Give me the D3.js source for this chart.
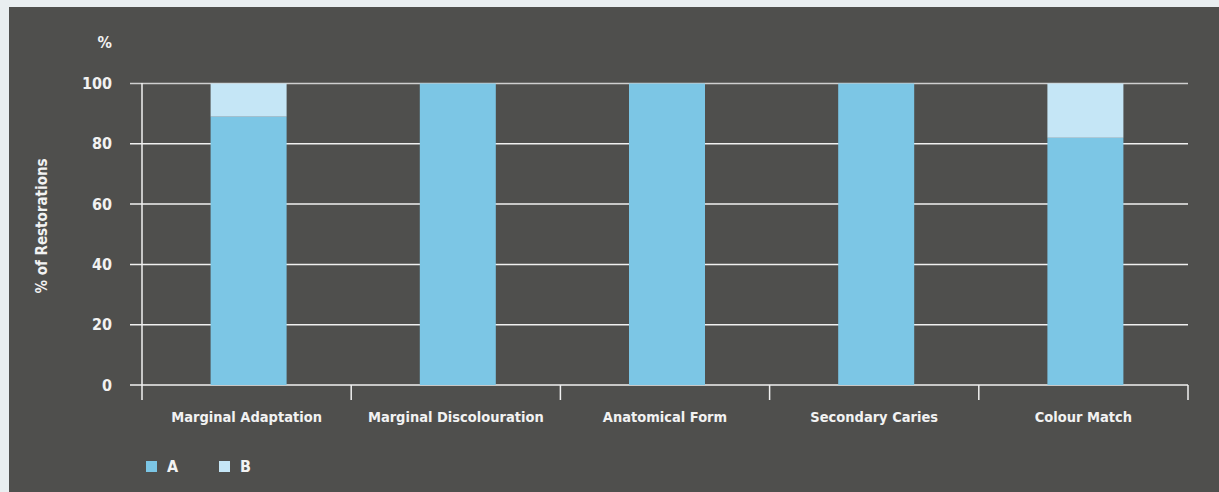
<!DOCTYPE html>
<html><head><meta charset="utf-8">
<script src="https://cdn.jsdelivr.net/npm/d3@7"></script>
<style>
body{margin:0;background:#e9eef0;}
svg{display:block;}
text{font-family:"Liberation Sans Narrow","DejaVu Sans Condensed",sans-serif;font-weight:bold;fill:#f2f2f2;}
</style></head>
<body>
<svg id="c" width="1219" height="492"></svg>
<script>
const categories = ["Marginal Adaptation","Marginal Discolouration","Anatomical Form","Secondary Caries","Colour Match"];
const seriesA = [89, 100, 100, 100, 82];
const seriesB = [11, 0, 0, 0, 18];
const yTicks = [0,20,40,60,80,100];
const legendLabels = ["A","B"];
const colors = ["#7cc6e5","#c5e6f6"];

const svg = d3.select("#c");
svg.append("rect").attr("x",9).attr("y",7).attr("width",1210).attr("height",485).attr("fill","#4f4f4d");

const x = d3.scaleBand().domain(categories).range([142,1188]).paddingInner(0).paddingOuter(0);
const y = d3.scaleLinear().domain([0,100]).range([385,83.5]);

// gridlines
svg.append("g").selectAll("line").data(yTicks).join("line")
  .attr("x1",130).attr("x2",1188)
  .attr("y1",d=>y(d)).attr("y2",d=>y(d))
  .attr("stroke",d=>d===100?"#cfcfcf":"#f0f0f0").attr("stroke-width",1.5);

// y tick labels
svg.append("g").selectAll("text").data(yTicks).join("text")
  .attr("x",112).attr("y",d=>y(d)).attr("dy","0.35em").attr("text-anchor","end")
  .style("font-size","16px").text(d=>d);

// y axis line
svg.append("line").attr("x1",142).attr("x2",142).attr("y1",83).attr("y2",400).attr("stroke","#f0f0f0").attr("stroke-width",1.5);

// x boundary ticks
const bounds = categories.map(c=>x(c)).concat([x.range()[1]]);
svg.append("g").selectAll("line").data(bounds.slice(1)).join("line")
  .attr("x1",d=>d).attr("x2",d=>d).attr("y1",385).attr("y2",400)
  .attr("stroke","#f0f0f0").attr("stroke-width",1.5);

// stacked bars
const data = categories.map((c,i)=>({c, a:seriesA[i], b:seriesB[i]}));
const stack = d3.stack().keys(["a","b"])(data);
const bw = 76;
svg.append("g").selectAll("g").data(stack).join("g").attr("fill",(d,i)=>colors[i])
  .selectAll("rect").data(d=>d).join("rect")
  .attr("x",d=>x(d.data.c)+x.bandwidth()/2-bw/2+2)
  .attr("width",bw)
  .attr("y",d=>y(d[1]))
  .attr("height",d=>y(d[0])-y(d[1]));

// x labels
svg.append("g").selectAll("text").data(categories).join("text")
  .attr("x",c=>x(c)+x.bandwidth()/2).attr("y",422).attr("text-anchor","middle")
  .style("font-size","14.5px").text(c=>c);

// % label
svg.append("text").attr("x",112).attr("y",48).attr("text-anchor","end").style("font-size","16px").text("%");

// y title
svg.append("text").attr("transform","translate(47,226) rotate(-90)").attr("text-anchor","middle")
  .style("font-size","15px").text("% of Restorations");

// legend
const lg = svg.append("g").selectAll("g").data(legendLabels).join("g")
  .attr("transform",(d,i)=>`translate(${146+i*73},461)`);
lg.append("rect").attr("width",11).attr("height",11).attr("fill",(d,i)=>colors[i]);
lg.append("text").attr("x",21).attr("y",5.5).attr("dy","0.35em").style("font-size","16px").text(d=>d);
</script>
</body></html>
